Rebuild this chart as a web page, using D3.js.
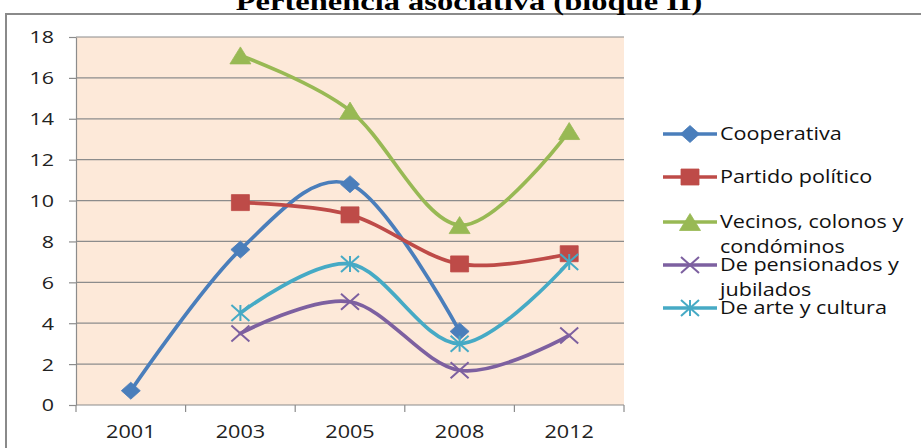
<!DOCTYPE html>
<html>
<head>
<meta charset="utf-8">
<script src="https://cdn.jsdelivr.net/npm/d3@7"></script>
<style>
  body { margin: 0; background: #fff; }
  svg { display: block; }
  .tick text { font-family: "Open Sans", sans-serif; fill: #222; }
</style>
</head>
<body>
<div id="chart"></div>
<script>
// Pertenencia asociativa (bloque II) - smoothed line chart

const YEARS = ["2001", "2003", "2005", "2008", "2012"];
const SERIES_NAMES = ["Cooperativa", "Partido político", "Vecinos, colonos y condóminos",
    "De pensionados y jubilados", "De arte y cultura"];
const COOPERATIVA = [0.7, 7.6, 10.8, 3.6, null];
const PARTIDO = [null, 9.9, 9.3, 6.9, 7.4];
const VECINOS = [null, 17.1, 14.4, 8.8, 13.4];
const PENSIONADOS = [null, 3.5, 5.05, 1.7, 3.4];
const ARTE = [null, 4.5, 6.9, 3.0, 7.0];
const Y_TICKS = [0, 2, 4, 6, 8, 10, 12, 14, 16, 18];
const LEGEND_LINES = [["Cooperativa"], ["Partido político"], ["Vecinos, colonos y", "condóminos"],
    ["De pensionados y", "jubilados"], ["De arte y cultura"]];

const COLORS = ["#4a7ebb", "#be4b48", "#98b954", "#7d60a0", "#46aac5"];
const MARKERS = ["diamond", "square", "triangle", "x", "star"];
const STRETCH = 1.2; // the source picture is stretched horizontally

const W = 921, H = 448;
const margin = { left: 76, right: 297, top: 37, bottom: 43 };

const svg = d3.select("#chart").append("svg")
    .attr("width", W)
    .attr("height", H);

// outer chart frame (runs off the picture on the right and bottom)
svg.append("rect")
    .attr("x", 6).attr("y", 14)
    .attr("width", 1000).attr("height", 1000)
    .attr("fill", "none")
    .attr("stroke", "#8a8a8a")
    .attr("stroke-width", 2);

// title, clipped by the top of the picture
svg.append("text")
    .attr("transform", "translate(469,10) scale(1.25,1)")
    .attr("text-anchor", "middle")
    .style("font-family", "'Liberation Serif', serif")
    .style("font-weight", "bold")
    .style("font-size", "26px")
    .text("Pertenencia asociativa (bloque II)");

const x = d3.scaleBand()
    .domain(YEARS)
    .range([margin.left, W - margin.right]);

const y = d3.scaleLinear()
    .domain([0, 18])
    .range([H - margin.bottom, margin.top]);

// plot background
svg.append("rect")
    .attr("x", margin.left).attr("y", y(18))
    .attr("width", x.range()[1] - margin.left)
    .attr("height", y(0) - y(18))
    .attr("fill", "#fde9d9");

// grid lines
svg.append("g")
    .selectAll("line")
    .data(Y_TICKS.filter(d => d > 0))
    .enter()
    .append("line")
    .attr("x1", margin.left).attr("x2", x.range()[1])
    .attr("y1", d => y(d)).attr("y2", d => y(d))
    .attr("stroke", "#8c8c8c")
    .attr("stroke-width", 1.2);

// y axis
const yAxis = svg.append("g")
    .attr("transform", `translate(${margin.left},0)`)
    .call(d3.axisLeft(y).tickValues(Y_TICKS).tickSize(7).tickPadding(0).tickSizeOuter(0));
yAxis.selectAll("line, path").attr("stroke", "#8c8c8c").attr("stroke-width", 1.2);
yAxis.selectAll("text")
    .attr("x", null)
    .attr("dy", "0.36em")
    .attr("transform", "translate(-22,0) scale(1.3,1)")
    .style("font-size", "16.5px");

// x axis, ticks sit between categories
const xAxis = svg.append("g")
    .attr("transform", `translate(0,${y(0)})`);
xAxis.append("line")
    .attr("x1", margin.left).attr("x2", x.range()[1])
    .attr("stroke", "#8c8c8c").attr("stroke-width", 1.2);
xAxis.selectAll(".xtick")
    .data(YEARS.concat([null]))
    .enter()
    .append("line")
    .attr("x1", (d, i) => margin.left + i * x.bandwidth())
    .attr("x2", (d, i) => margin.left + i * x.bandwidth())
    .attr("y1", 0).attr("y2", 7)
    .attr("stroke", "#8c8c8c").attr("stroke-width", 1.2);
xAxis.selectAll(".xlabel")
    .data(YEARS)
    .enter()
    .append("text")
    .attr("transform", d => `translate(${x(d) + x.bandwidth() / 2},33) scale(1.17,1)`)
    .attr("text-anchor", "middle")
    .style("font-family", "'Open Sans', sans-serif")
    .style("font-size", "18.5px")
    .style("fill", "#222")
    .text(d => d);

// marker shapes, w x h box
function markerPath(type, w, h) {
    const a = w / 2, b = h / 2;
    if (type === "diamond") return `M0,${-b}L${a},0L0,${b}L${-a},0Z`;
    if (type === "square") return `M${-a},${-b}H${a}V${b}H${-a}Z`;
    if (type === "triangle") return `M0,${-b}L${a},${b}L${-a},${b}Z`;
    if (type === "x") return `M${-a},${-b}L${a},${b}M${a},${-b}L${-a},${b}`;
    return `M${-a},${-b}L${a},${b}M${a},${-b}L${-a},${b}M0,${-b}V${b}`;
}
const MARKER_SIZE = {
    diamond: [19, 17], square: [18, 16], triangle: [21, 17], x: [18, 16], star: [18, 16]
};

function drawMarker(g, type, color, cx, cy) {
    const [w, h] = MARKER_SIZE[type];
    const filled = type === "diamond" || type === "square" || type === "triangle";
    g.append("path")
        .attr("transform", `translate(${cx},${cy})`)
        .attr("d", markerPath(type, w, h))
        .attr("fill", filled ? color : "none")
        .attr("stroke", color)
        .attr("stroke-width", filled ? 0.8 : 2);
}

const seriesData = [COOPERATIVA, PARTIDO, VECINOS, PENSIONADOS, ARTE];

const line = d3.line()
    .defined(d => d.v !== null)
    .x(d => x(d.year) + x.bandwidth() / 2)
    .y(d => y(d.v))
    .curve(d3.curveCardinal.tension(0));

const plot = svg.append("g");
seriesData.forEach((vals, i) => {
    const pts = vals.map((v, j) => ({ year: YEARS[j], v: v }));
    const g = plot.append("g");
    g.append("path")
        .datum(pts)
        .attr("d", line)
        .attr("fill", "none")
        .attr("stroke", COLORS[i])
        .attr("stroke-width", 3.7)
        .attr("stroke-linecap", "round");
    pts.filter(d => d.v !== null).forEach(d => {
        drawMarker(g, MARKERS[i], COLORS[i], x(d.year) + x.bandwidth() / 2, y(d.v));
    });
});

// legend
const LEGEND_Y = [134, 177, 222, 265, 308];
const legend = svg.append("g");
LEGEND_LINES.forEach((lines, i) => {
    const g = legend.append("g").attr("transform", `translate(0,${LEGEND_Y[i]})`);
    g.append("line")
        .attr("x1", 663).attr("x2", 717)
        .attr("stroke", COLORS[i])
        .attr("stroke-width", 3.7);
    drawMarker(g, MARKERS[i], COLORS[i], 690, 0);
    lines.forEach((t, k) => {
        g.append("text")
            .attr("transform", `translate(720,${6 + k * 25}) scale(${STRETCH},1)`)
            .style("font-family", "'Open Sans', sans-serif")
            .style("font-size", "18px")
            .style("fill", "#111")
            .text(t);
    });
});
</script>
</body>
</html>
